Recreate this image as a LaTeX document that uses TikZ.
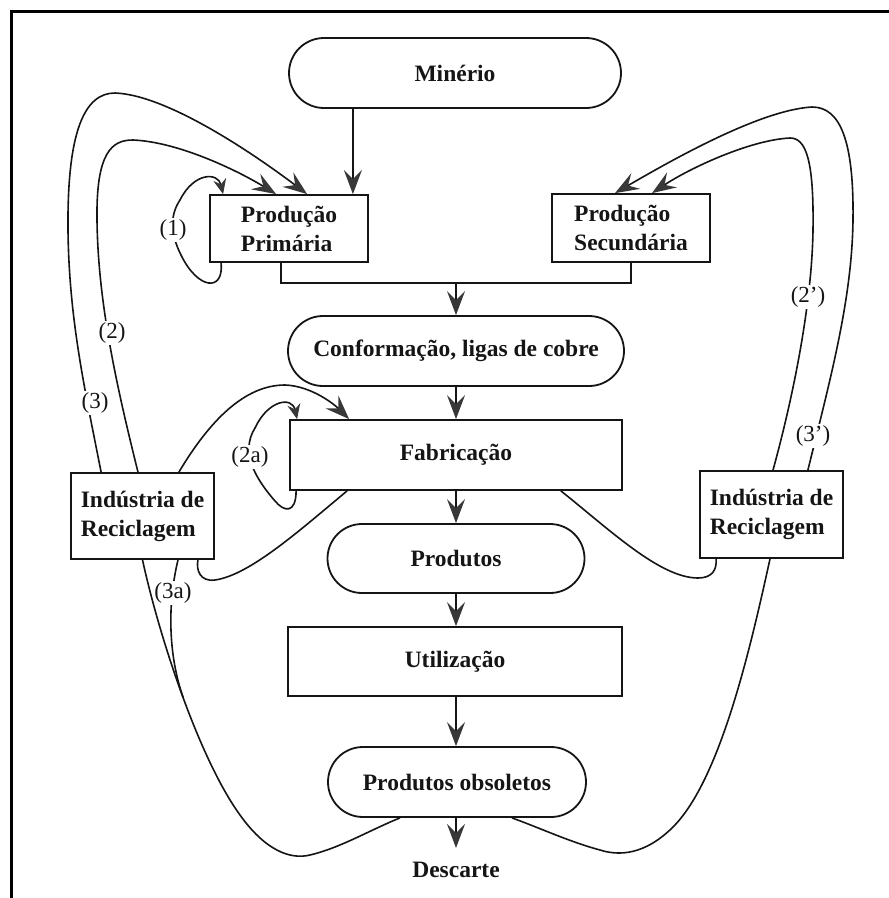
\documentclass[tikz,border=0pt]{standalone}
\usepackage{fontspec}
\setmainfont{Liberation Serif}
\usetikzlibrary{arrows.meta,shapes.misc}
\definecolor{ink}{HTML}{151515}
\definecolor{tipc}{HTML}{383838}
\tikzset{
  lbl/.style={font=\fontsize{23.5}{29}\selectfont\bfseries, text=ink},
  boxn/.style={draw=ink, line width=1.8pt, rectangle, inner sep=0pt, lbl},
  capn/.style={draw=ink, line width=1.8pt, rounded rectangle, inner sep=0pt, lbl},
  flow/.style={draw=ink, line width=1.6pt},
  arr/.style={flow, -{Stealth[length=24pt,width=18pt,inset=9pt,color=tipc,fill=tipc]}},
  sarr/.style={flow, -{Stealth[length=15pt,width=13pt,inset=5pt,color=tipc,fill=tipc]}},
  tag/.style={font=\fontsize{23}{27}\selectfont, text=ink, fill=white, inner sep=2pt},
}
\begin{document}
\begin{tikzpicture}[x=1pt,y=-1pt]
\useasboundingbox[fill=white] (0,0) rectangle (889,898);
\draw[line width=3pt, black] (11,898) -- (11,11) -- (889,11);

% main column
\node[capn, minimum width=332pt, minimum height=70pt] (mine) at (455,73) {Minério};
\node[boxn, minimum width=158pt, minimum height=67pt, align=left] (prim) at (289,228.5) {Produção\\Primária};
\node[boxn, minimum width=158pt, minimum height=68pt, align=left] (sec) at (631,228) {Produção\\Secundária};
\node[capn, minimum width=336pt, minimum height=70pt] (conf) at (456,351) {Conformação, ligas de cobre};
\node[boxn, minimum width=332pt, minimum height=70pt] (fab) at (456,455) {Fabricação};
\node[capn, minimum width=257pt, minimum height=69pt] (prod) at (456,558.5) {Produtos};
\node[boxn, minimum width=334pt, minimum height=69pt] (util) at (455,661.5) {Utilização};
\node[capn, minimum width=258pt, minimum height=70pt] (obs) at (457,782) {Produtos obsoletos};
\node[lbl, inner sep=0pt, anchor=north] (desc) at (456,862) {Descarte};
\node[boxn, minimum width=143pt, minimum height=86pt, align=left] (recL) at (142.5,516) {Indústria de\\Reciclagem};
\node[boxn, minimum width=143pt, minimum height=87pt, align=left] (recR) at (771.5,514.5) {Indústria de\\Reciclagem};

% straight flow
\coordinate (ma) at ([xshift=-16pt]prim.north east);
\draw[arr] (ma |- mine.south) -- (ma);
\coordinate (pb) at ([xshift=-8pt]prim.south);
\coordinate (jn) at (456,283);
\draw[flow] (pb) -- (pb |- jn) -- (jn -| sec.south) -- (sec.south);
\draw[arr] (jn) -- (jn |- conf.north);
\coordinate (cx) at (456,0);
\draw[arr] (cx |- conf.south) -- (cx |- fab.north);
\draw[arr] (cx |- fab.south) -- (cx |- prod.north);
\draw[arr] (cx |- prod.south) -- (cx |- util.north);
\draw[arr] (cx |- util.south) -- (cx |- obs.north);
\coordinate (dt) at ([yshift=14pt]desc.north);
\draw[arr] (cx |- obs.south) -- (dt);

% loop (1)
\coordinate (p1s) at ([xshift=12pt]prim.south west);
\coordinate (p1e) at ([xshift=14pt]prim.north west);
\draw[sarr] (p1s) .. controls (224,292) and (198,290) .. (181,255)
  .. controls (170,233) and (170,215) .. (180,200)
  .. controls (194,172) and (218,172) .. (p1e);
% loop (2)
\coordinate (r2) at ([xshift=-4.5pt]recL.north);
\coordinate (p2e) at ([xshift=67pt]prim.north west);
\draw[arr] (r2) .. controls (115,380) and (98,300) .. (97,220)
  .. controls (96,152) and (112,140) .. (133,140)
  .. controls (180,142) and (240,172) .. (p2e);
% loop (3)
\coordinate (r3) at ([xshift=31pt]recL.north west);
\coordinate (p3e) at ([xshift=98pt]prim.north west);
\draw[arr] (r3) .. controls (85,390) and (69,320) .. (68,230)
  .. controls (67,130) and (85,93) .. (115,93)
  .. controls (170,95) and (262,160) .. (p3e);

% recycling -> fabrication
\coordinate (rf) at ([xshift=-36pt]recL.north east);
\coordinate (fe) at ([xshift=60pt]fab.north west);
\draw[arr] (rf) .. controls (210,420) and (245,385) .. (285,385)
  .. controls (312,386) and (335,405) .. (fe);
% loop (2a)
\coordinate (fa) at ([xshift=7pt]fab.south west);
\coordinate (fb) at ([xshift=8pt]fab.north west);
\draw[sarr] (fa) .. controls (296,514) and (284,512) .. (275,501)
  .. controls (255,478) and (240,452) .. (255,428)
  .. controls (268,400) and (292,396) .. (fb);
% fabrication scrap -> left recycling
\coordinate (fs) at ([xshift=58pt]fab.south west);
\coordinate (rb) at ([xshift=-17pt]recL.south east);
\draw[flow] (fs) .. controls (300,530) and (250,575) .. (215,580)
  .. controls (200,582) and (196,570) .. (rb);
% fabrication scrap -> right recycling
\coordinate (fr) at ([xshift=-62pt]fab.south east);
\coordinate (rr) at ([xshift=17pt]recR.south west);
\draw[flow] (fr) .. controls (610,530) and (660,578) .. (698,578)
  .. controls (712,578) and (717,570) .. (rr);

% right loops
\coordinate (q2) at ([xshift=1.5pt]recR.north);
\coordinate (s2) at ([xshift=21pt]sec.north);
\draw[arr] (q2) .. controls (795,390) and (812,300) .. (813,230)
  .. controls (814,160) and (806,138) .. (790,138)
  .. controls (750,140) and (690,168) .. (s2);
\coordinate (q3) at ([xshift=-36pt]recR.north east);
\coordinate (s3) at ([xshift=-16pt]sec.north);
\draw[arr] (q3) .. controls (830,380) and (852,300) .. (853,220)
  .. controls (854,140) and (840,107) .. (812,107)
  .. controls (760,110) and (672,160) .. (s3);
% obsolete -> right recycling
\coordinate (q4) at ([xshift=-1.5pt]recR.south);
\coordinate (o4) at ([xshift=55pt]obs.south);
\draw[flow] (q4) .. controls (750,650) and (720,780) .. (673,827)
  .. controls (650,850) and (625,858) .. (600,850)
  .. controls (570,842) and (540,828) .. (o4);

% (3a) branch
\coordinate (r3a) at ([xshift=35.5pt]recL.south);
\coordinate (m3a) at (183,697);
\draw[flow] (r3a) .. controls (166,610) and (170,660) .. (m3a);
\node[tag] (t3a) at (173,593) {(3a)};
% obsolete -> left recycling
\coordinate (o3) at ([xshift=-57pt]obs.south);
\draw[flow] (recL.south) .. controls (160,640) and (200,760) .. (240,815)
  .. controls (265,850) and (290,860) .. (310,855)
  .. controls (340,848) and (370,830) .. (o3);

% tags
\node[tag] (t1) at (173,230) {(1)};
\node[tag] (t2) at (112,333) {(2)};
\node[tag] (t3) at (95,403) {(3)};
\node[tag] (t2a) at (250,457) {(2a)};
\node[tag] (t2p) at (808,297) {(2’)};
\node[tag] (t3p) at (813,436) {(3’)};
\end{tikzpicture}
\end{document}
